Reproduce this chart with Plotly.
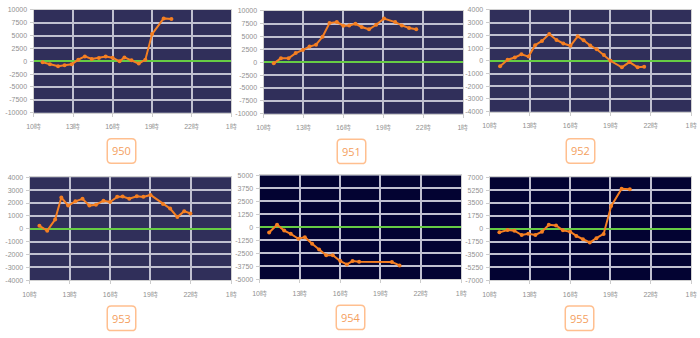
import plotly.graph_objects as go

# ---- data ----
x950 = [10.69, 11.24, 11.86, 12.36, 12.9, 13.4, 13.9, 14.42, 14.96, 15.48, 16.0, 16.53, 16.9, 17.44, 17.99, 18.49, 19.0, 19.88, 20.47]
y950 = [-190, -570, -950, -760, -570, 320, 950, 450, 640, 950, 700, 0, 760, 190, -450, 320, 5290, 8340, 8220]

x951 = [10.77, 11.31, 11.88, 12.42, 12.96, 13.46, 13.95, 14.44, 14.96, 15.51, 16.0, 16.44, 16.91, 17.38, 17.93, 18.47, 19.06, 19.9, 20.4, 20.94, 21.48]
y951 = [-190, 760, 760, 1780, 2410, 3050, 3430, 4950, 7620, 7810, 7110, 7170, 7490, 6860, 6410, 7300, 8510, 7810, 7170, 6670, 6410]

x952 = [10.78, 11.34, 11.88, 12.37, 12.9, 13.39, 13.9, 14.44, 14.98, 15.49, 16.02, 16.56, 17.0, 17.49, 17.98, 18.51, 19.0, 19.85, 20.41, 21.02, 21.51]
y952 = [-430, 80, 260, 510, 330, 1230, 1560, 2100, 1640, 1360, 1180, 1920, 1610, 1200, 900, 460, 0, -510, -100, -510, -460]

x953 = [10.73, 11.31, 11.9, 12.36, 12.87, 13.41, 13.94, 14.45, 14.94, 15.5, 15.99, 16.52, 16.93, 17.42, 17.98, 18.47, 19.0, 19.93, 20.46, 21.0, 21.51, 21.97]
y953 = [230, -150, 710, 2430, 1800, 2130, 2330, 1800, 1870, 2180, 2080, 2480, 2510, 2330, 2530, 2480, 2630, 1920, 1570, 910, 1370, 1190]

x954 = [10.71, 11.3, 11.83, 12.32, 12.89, 13.37, 13.91, 14.43, 14.96, 15.45, 16.01, 16.5, 16.92, 17.41, 19.85, 20.42]
y954 = [-510, 250, -320, -630, -1110, -950, -1580, -2150, -2690, -2690, -3260, -3580, -3260, -3320, -3350, -3670]

x955 = [10.73, 11.34, 11.85, 12.39, 12.88, 13.41, 13.9, 14.41, 14.95, 15.46, 16.0, 16.46, 16.95, 17.46, 17.95, 18.49, 19.05, 19.83, 20.44]
y955 = [-490, -180, -270, -850, -670, -850, -400, 530, 450, -220, -400, -980, -1430, -1870, -1290, -710, 3080, 5440, 5390]

x_tickvals = [10, 13, 16, 19, 22, 25]
x_ticktext = ["10時", "13時", "16時", "19時", "22時", "1時"]

names = ["950", "951", "952", "953", "954", "955"]
xs = [x950, x951, x952, x953, x954, x955]
ys = [y950, y951, y952, y953, y954, y955]
y_ticks = [
    [-10000, -7500, -5000, -2500, 0, 2500, 5000, 7500, 10000],
    [-10000, -7500, -5000, -2500, 0, 2500, 5000, 7500, 10000],
    [-4000, -3000, -2000, -1000, 0, 1000, 2000, 3000, 4000],
    [-4000, -3000, -2000, -1000, 0, 1000, 2000, 3000, 4000],
    [-5000, -3750, -2500, -1250, 0, 1250, 2500, 3750, 5000],
    [-7000, -5250, -3500, -1750, 0, 1750, 3500, 5250, 7000],
]

# ---- layout geometry (pixels) ----
W, H = 700, 338
panels = [  # left, right, top, bottom
    (27, 228, 6, 111),
    (261, 464, 7, 112),
    (491, 696, 6, 110),
    (23, 228, 177, 282),
    (257, 462, 175, 281),
    (491, 696, 177, 282),
]
bgs = ["#302f5a", "#302f5a", "#302f5a", "#302f5a", "#030332", "#030332"]
boxes = [(116.5, 150), (350.5, 150.5), (583.5, 150), (116.5, 321), (349.5, 320), (582.5, 321)]

fig = go.Figure()
layout = dict(
    width=W, height=H, margin=dict(l=0, r=0, t=0, b=0),
    paper_bgcolor="white", showlegend=False,
    font=dict(family="Liberation Sans, Arial, sans-serif", size=7, color="#909090"),
)
shapes = []
annotations = []
for i in range(6):
    l, r, t, b = panels[i]
    xa = "xaxis" if i == 0 else f"xaxis{i+1}"
    ya = "yaxis" if i == 0 else f"yaxis{i+1}"
    xr = "x" if i == 0 else f"x{i+1}"
    yr = "y" if i == 0 else f"y{i+1}"
    lo, hi = y_ticks[i][0], y_ticks[i][-1]
    layout[xa] = dict(
        domain=[l / W, r / W], anchor=yr, range=[10, 25],
        tickvals=x_tickvals, ticktext=x_ticktext,
        showgrid=True, gridcolor="#c0c0d0", gridwidth=1.5,
        showline=True, linecolor="#d0d0d0", linewidth=1, mirror=True,
        ticks="outside", ticklen=3, tickcolor="#cccccc",
        ticklabelstandoff=4, zeroline=False,
        tickfont=dict(size=7, color="#909090"),
    )
    layout[ya] = dict(
        domain=[1 - b / H, 1 - t / H], anchor=xr, range=[lo, hi],
        tickvals=y_ticks[i], ticktext=[str(v) for v in y_ticks[i]],
        showgrid=True, gridcolor="#c0c0d0", gridwidth=1.5,
        showline=True, linecolor="#d0d0d0", linewidth=1, mirror=True,
        ticks="outside", ticklen=3, tickcolor="#cccccc",
        zeroline=True, zerolinecolor="#66cc44", zerolinewidth=1.5,
        ticklabelstandoff=1,
        tickfont=dict(size=7, color="#909090"),
    )
    shapes.append(dict(type="rect", xref="paper", yref="paper",
                       x0=l / W, x1=r / W, y0=1 - b / H, y1=1 - t / H,
                       fillcolor=bgs[i], line=dict(width=0), layer="below"))
    fig.add_trace(go.Scatter(
        x=xs[i], y=ys[i], mode="lines+markers", xaxis=xr, yaxis=yr,
        line=dict(color="#f57f22", width=2),
        marker=dict(color="#f57f22", size=4),
        cliponaxis=False,
    ))
    # label box with rounded corners
    cx, cy = boxes[i]
    w2, h2, rr = 14.5, 12.5, 4
    x0, x1, y0, y1 = cx - w2, cx + w2, cy - h2, cy + h2

    def P(px, py):
        return f"{px / W:.5f},{1 - py / H:.5f}"
    path = (f"M {P(x0 + rr, y0)} L {P(x1 - rr, y0)} Q {P(x1, y0)} {P(x1, y0 + rr)} "
            f"L {P(x1, y1 - rr)} Q {P(x1, y1)} {P(x1 - rr, y1)} "
            f"L {P(x0 + rr, y1)} Q {P(x0, y1)} {P(x0, y1 - rr)} "
            f"L {P(x0, y0 + rr)} Q {P(x0, y0)} {P(x0 + rr, y0)} Z")
    shapes.append(dict(type="path", xref="paper", yref="paper", path=path,
                       line=dict(color="#ffbf8f", width=1.5), fillcolor="white"))
    annotations.append(dict(text=names[i], x=cx / W, y=1 - cy / H, xref="paper", yref="paper",
                            showarrow=False, xanchor="center", yanchor="middle",
                            font=dict(size=11, color="#f4a060",
                                      family="Open Sans, Liberation Sans, sans-serif")))

layout["shapes"] = shapes
layout["annotations"] = annotations
fig.update_layout(**layout)
fig.write_html("out.html")
